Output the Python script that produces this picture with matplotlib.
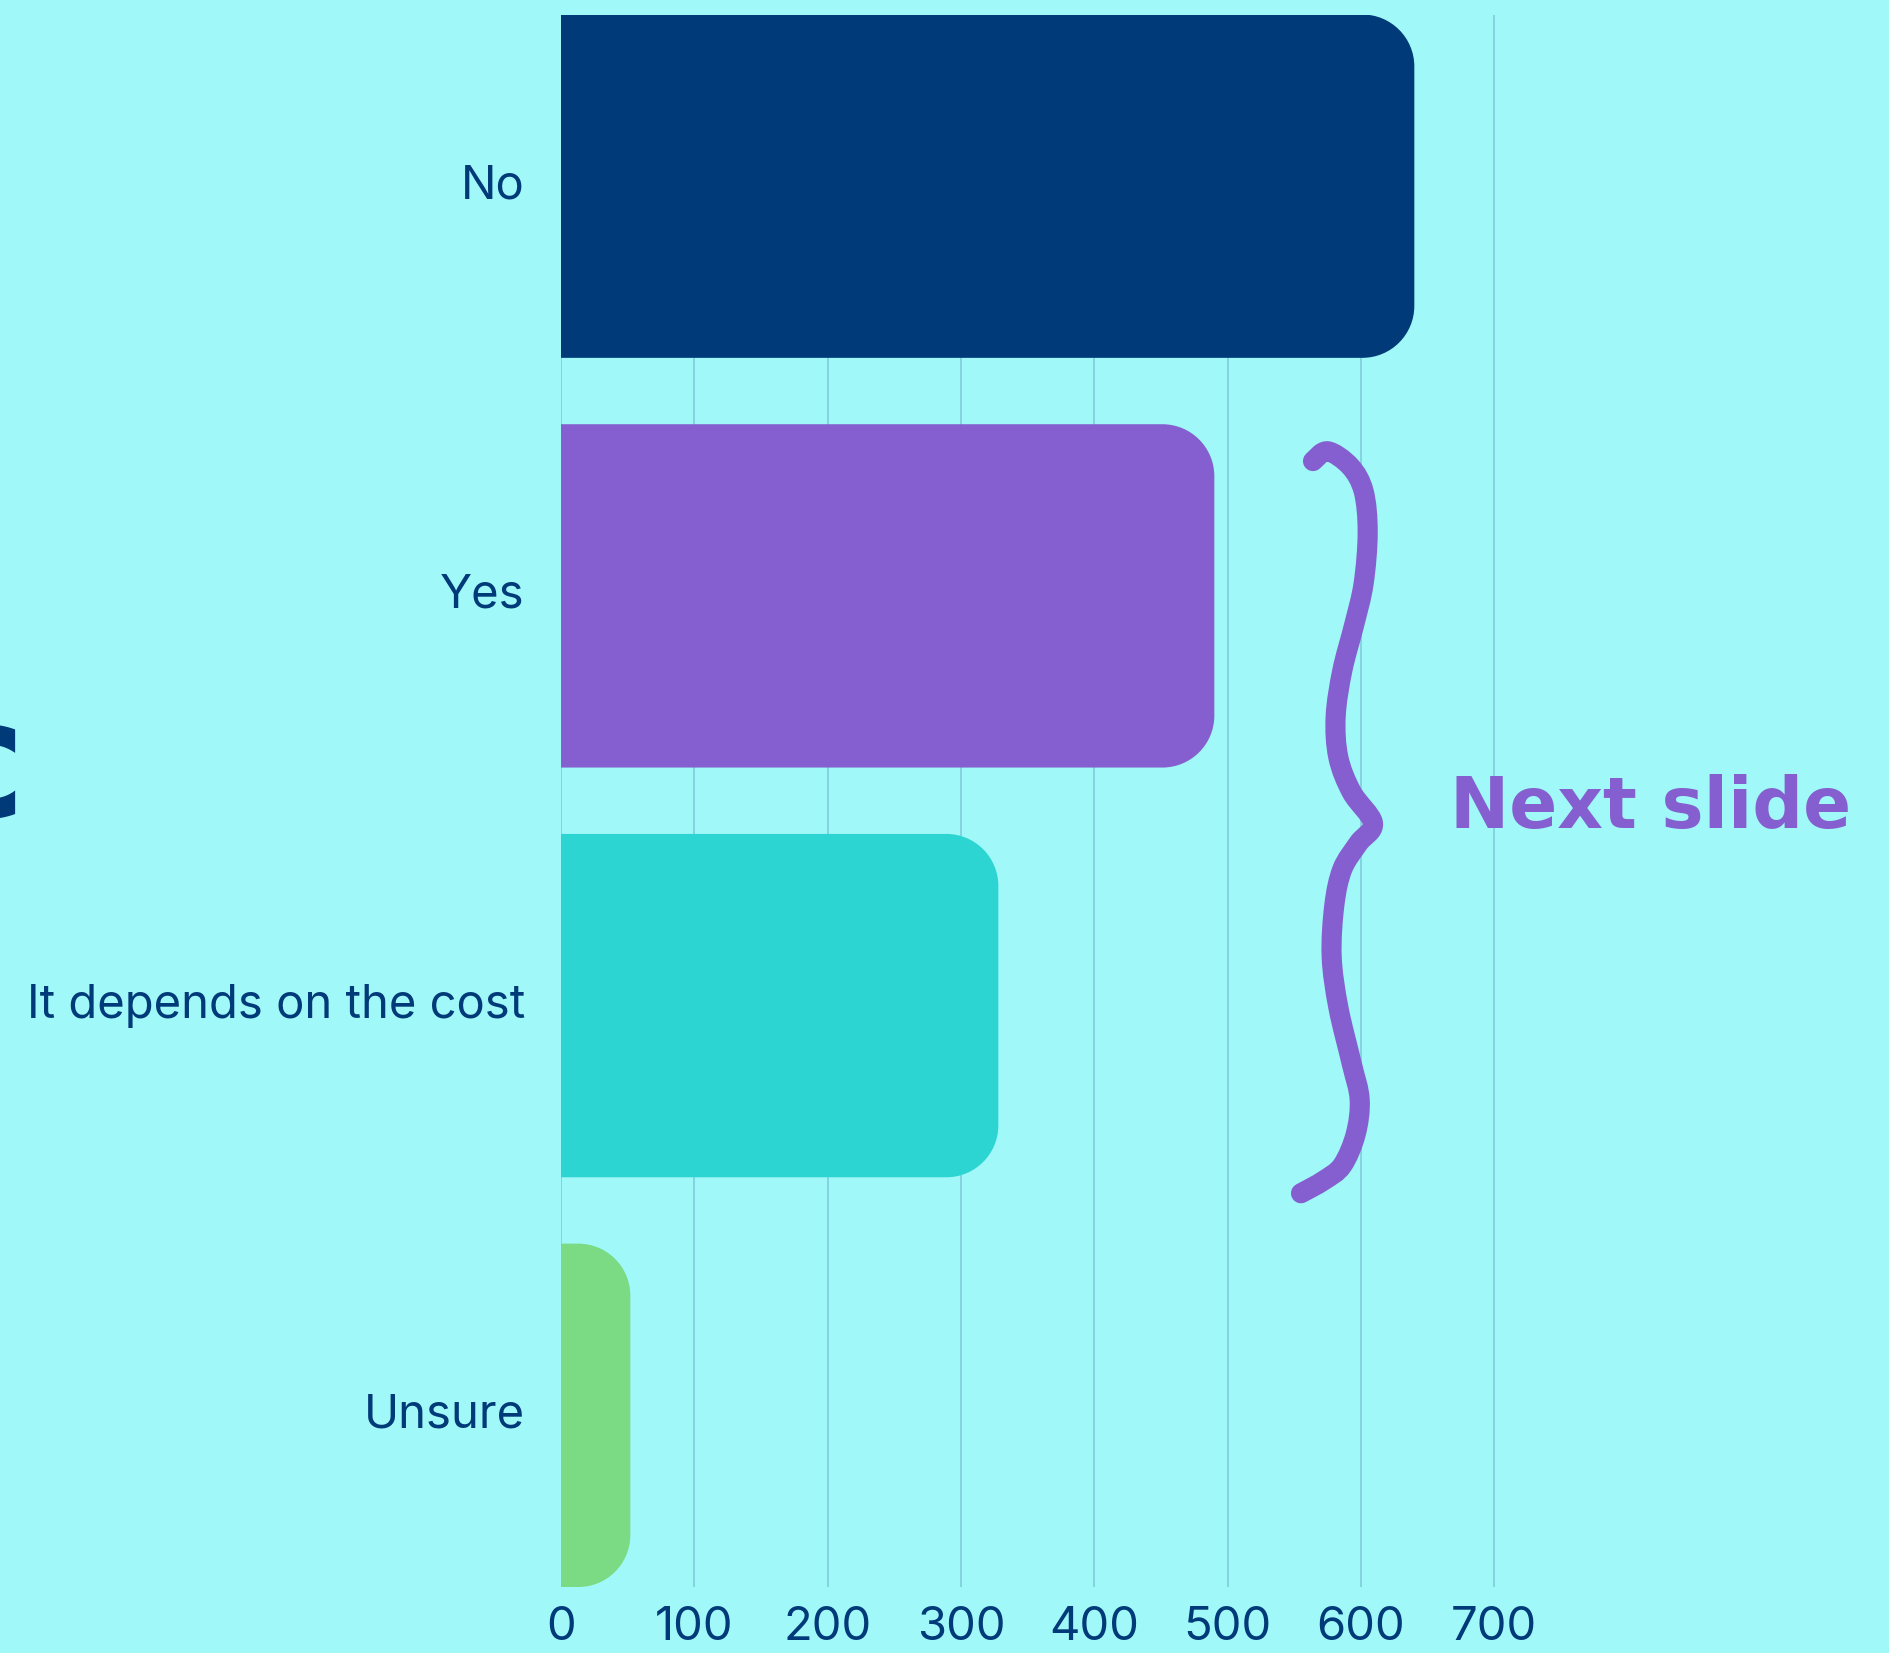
import numpy as np
import matplotlib
matplotlib.use('Agg')
import matplotlib.pyplot as plt
from matplotlib.path import Path
from matplotlib.patches import PathPatch
from matplotlib.transforms import ScaledTranslation

# survey answers, top to bottom
categories = ['No', 'Yes', 'It depends on the cost', 'Unsure']
counts = [640, 490, 328, 52]
bar_colors = ['#003a78', '#855fcf', '#2cd4d2', '#7bda84']
xticks = [0, 100, 200, 300, 400, 500, 600, 700]

# hand drawn brace next to Yes / It depends (x in counts, y in category units)
brace_x = [564, 575, 592, 602, 605, 602, 595, 586, 581, 583, 593, 609,
           598, 586, 580, 578, 583, 593, 599, 596, 586, 572, 555]
brace_y = [0.671, 0.647, 0.684, 0.745, 0.845, 0.969, 1.069, 1.182, 1.294,
           1.394, 1.479, 1.555, 1.604, 1.667, 1.755, 1.880, 2.004, 2.141,
           2.229, 2.314, 2.390, 2.427, 2.458]

bg = '#a0f9f8'
navy = '#003a78'
purple = '#855fcf'
grid_col = '#7cc9d9'

W, H = 1889, 1653
fig = plt.figure(figsize=(W / 100, H / 100), dpi=100)
fig.patch.set_facecolor(bg)

bar_h = 0.838
x_max = 750
ax_left, ax_right = 561, 561 + 1000
ax_top, ax_bot = 14.5, 1587
ax = fig.add_axes([ax_left / W, 1 - ax_bot / H, (ax_right - ax_left) / W, (ax_bot - ax_top) / H])
ax.set_facecolor(bg)
ax.set_xlim(0, x_max)
ax.set_ylim(len(categories) - 1 + bar_h / 2, -bar_h / 2)

lab_font = ['Inter', 'DejaVu Sans']

# pixels per data unit
px_x = (ax_right - ax_left) / x_max
px_y = (ax_bot - ax_top) / (len(categories) - 1 + bar_h)
r_px = 52
k = 0.5523

y_pos = np.arange(len(categories))
bars = ax.barh(y_pos, counts, height=bar_h, color=bar_colors)
for b in bars:
    x0, y0 = b.get_x(), b.get_y()
    w, h = b.get_width(), b.get_height()
    b.set_visible(False)
    rx = min(r_px / px_x, w)
    ry = r_px / px_y
    x1, y1 = x0 + w, y0 + h
    verts = [(x0, y0), (x1 - rx, y0),
             (x1 - rx + k * rx, y0), (x1, y0 + ry - k * ry), (x1, y0 + ry),
             (x1, y1 - ry),
             (x1, y1 - ry + k * ry), (x1 - rx + k * rx, y1), (x1 - rx, y1),
             (x0, y1), (x0, y0)]
    codes = [Path.MOVETO, Path.LINETO,
             Path.CURVE4, Path.CURVE4, Path.CURVE4,
             Path.LINETO,
             Path.CURVE4, Path.CURVE4, Path.CURVE4,
             Path.LINETO, Path.CLOSEPOLY]
    ax.add_patch(PathPatch(Path(verts, codes), facecolor=b.get_facecolor(),
                           edgecolor='none', zorder=2))

ax.set_xticks(xticks)
ax.set_xticklabels([str(t) for t in xticks], family=lab_font, fontsize=34, color=navy)
ax.set_yticks(y_pos)
ax.set_yticklabels(categories, family=lab_font, fontsize=34, color=navy)
ax.tick_params(axis='x', length=0, pad=14)
ax.tick_params(axis='y', length=0, pad=26)
# labels sit a touch above the bar centres
for tick in ax.yaxis.get_major_ticks():
    tick.label1.set_transform(tick.label1.get_transform() +
                              ScaledTranslation(0, 5 / 100, fig.dpi_scale_trans))
for s in ax.spines.values():
    s.set_visible(False)
ax.set_axisbelow(True)
ax.xaxis.grid(True, color=grid_col, linewidth=1.1)
ax.yaxis.grid(False)

# the brace, drawn as a smooth curve through the read points (catmull-rom -> bezier)
bp = np.column_stack([brace_x, brace_y]).astype(float)
ext = np.vstack([bp[0], bp, bp[-1]])
verts = [tuple(bp[0])]
codes = [Path.MOVETO]
for i in range(1, len(ext) - 2):
    p0, p1, p2, p3 = ext[i - 1], ext[i], ext[i + 1], ext[i + 2]
    verts += [tuple(p1 + (p2 - p0) / 6), tuple(p2 - (p3 - p1) / 6), tuple(p2)]
    codes += [Path.CURVE4] * 3
ax.add_patch(PathPatch(Path(verts, codes), facecolor='none', edgecolor=purple,
                       lw=14.5, capstyle='round', joinstyle='round',
                       clip_on=False, zorder=3))
ax.text(667, 1.52, 'Next slide', color=purple, fontsize=51, fontweight='bold',
        family='DejaVu Sans', ha='left', va='center', zorder=1)

# cut off title letter at the left edge of the slide
fig.text(-71 / W, 1 - 772 / H, 'c', color=navy, fontsize=118, fontweight='bold',
         family='DejaVu Sans', ha='left', va='center')

fig.savefig('out.png', dpi=100, facecolor=bg)
